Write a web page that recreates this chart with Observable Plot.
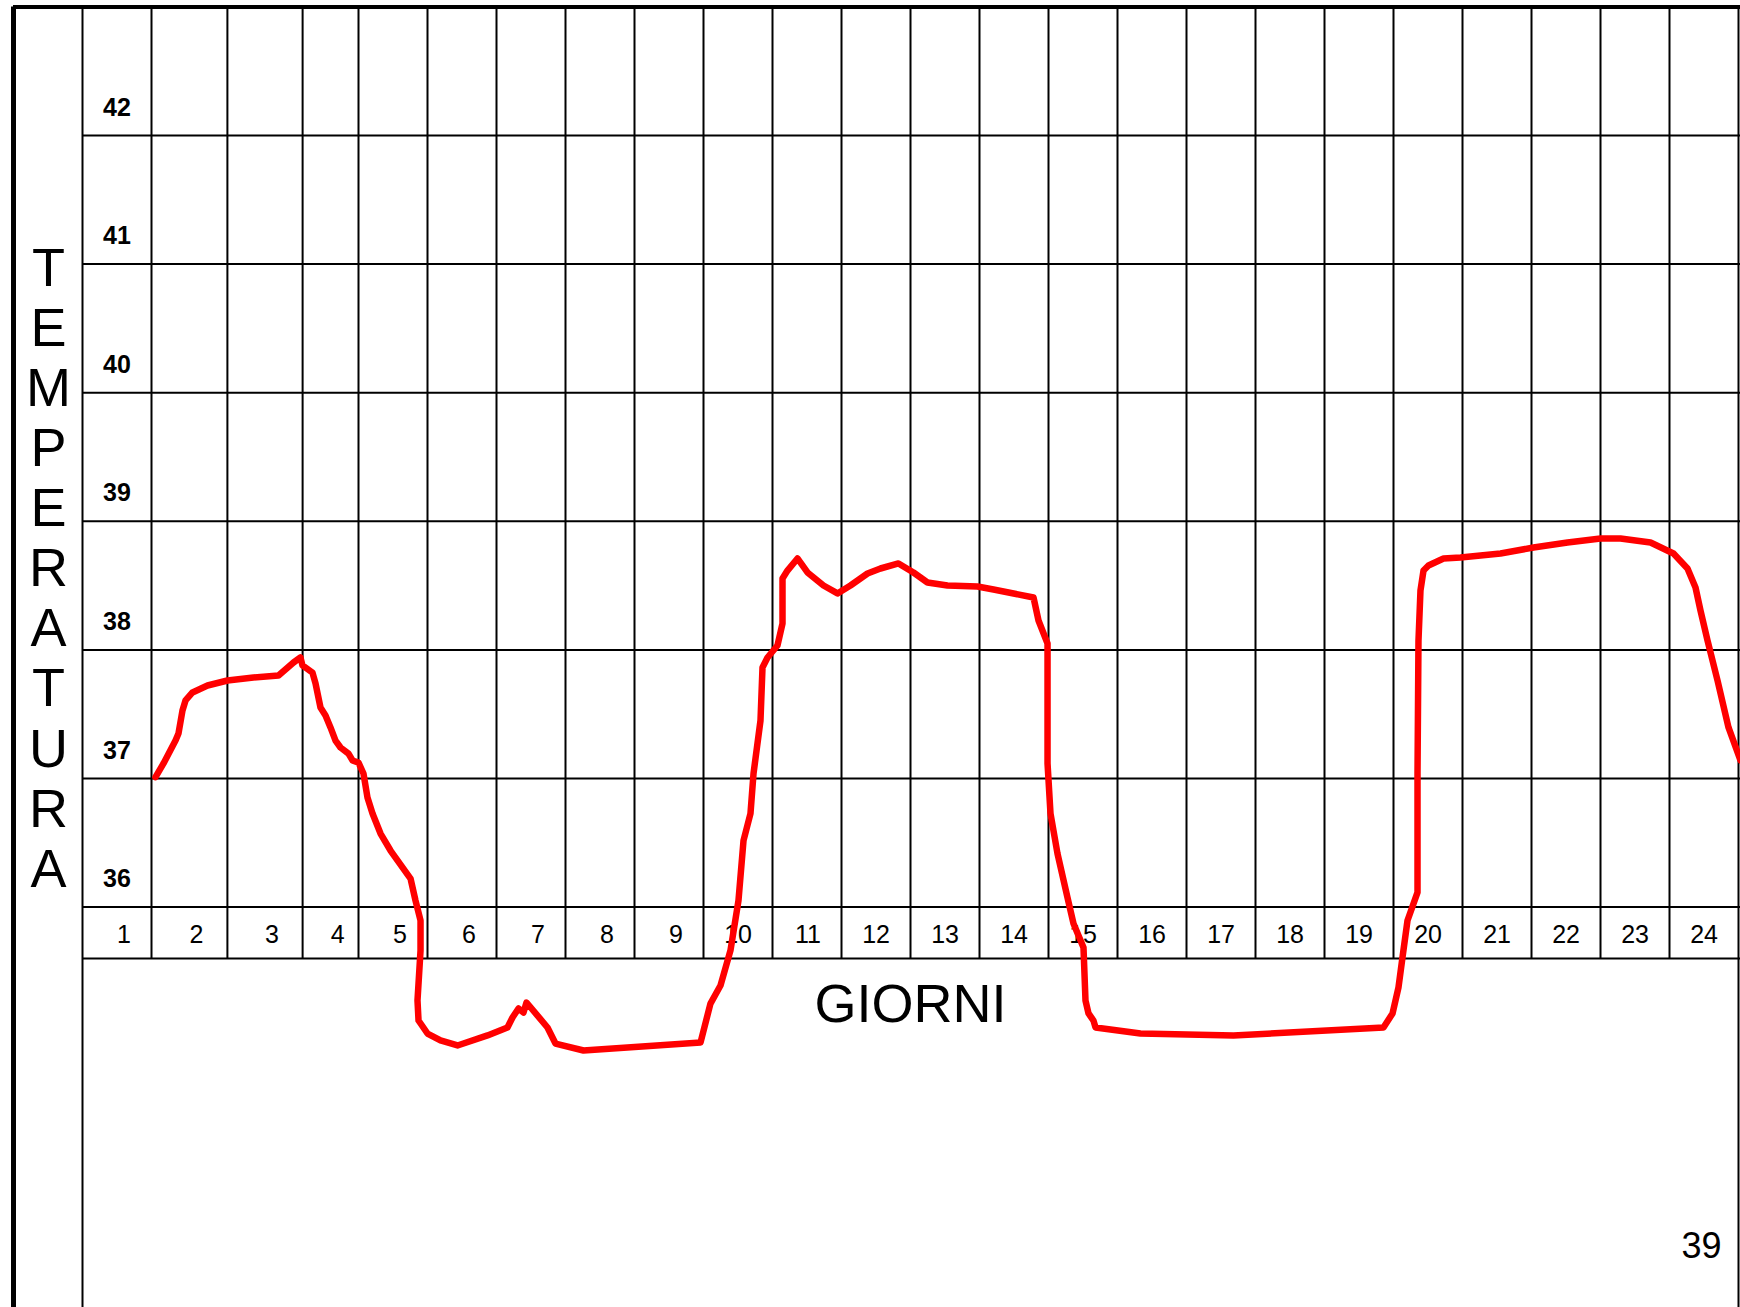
<!DOCTYPE html>
<html>
<head>
<meta charset="utf-8">
<script src="https://cdn.jsdelivr.net/npm/d3@7"></script>
<script src="https://cdn.jsdelivr.net/npm/@observablehq/plot@0.6"></script>
<style>
  html, body { margin: 0; padding: 0; background: white; overflow: hidden; }
  #chart svg { display: block; }
</style>
</head>
<body>
<div id="chart"></div>
<script>
// ---- Data ----
const giorni = ["1","2","3","4","5","6","7","8","9","10","11","12","13","14","15","16","17","18","19","20","21","22","23","24"];
// column boundaries of the printed day grid (in day units)
const limitiColonne = [0, 1, 2.1, 3.19, 4, 5, 6, 7, 8, 9, 10, 11, 12, 13, 14, 15, 16, 17, 18, 19, 20, 21, 22, 23, 24];
const temperatureTick = [36, 37, 38, 39, 40, 41, 42];
const tempMassima = 43;      // top border of the sheet grid
const baseRigaGiorni = 35.6; // bottom of the row with day numbers

// hand-drawn temperature curve: position along the day axis, temperature (°C)
const giornoCurva = [
  1.058, 1.174, 1.348, 1.391, 1.449, 1.493, 1.594, 1.812, 2.101, 2.478,
  2.841, 3.058, 3.159, 3.188, 3.333, 3.377, 3.449, 3.522, 3.594, 3.667,
  3.739, 3.855, 3.913, 4.000, 4.072, 4.130, 4.203, 4.319, 4.464, 4.754,
  4.826, 4.899, 4.899, 4.855, 4.870, 5.000, 5.188, 5.435, 5.870, 6.159,
  6.232, 6.319, 6.391, 6.435, 6.739, 6.855, 7.261, 8.957, 9.101, 9.246,
  9.391, 9.507, 9.580, 9.681, 9.725, 9.826, 9.855, 9.928, 10.072, 10.145,
  10.145, 10.217, 10.362, 10.507, 10.739, 10.942, 11.130, 11.377, 11.565, 11.826,
  12.043, 12.246, 12.536, 12.971, 13.203, 13.783, 13.855, 13.986, 13.986, 14.029,
  14.130, 14.275, 14.362, 14.507, 14.536, 14.580, 14.652, 14.681, 15.333, 16.681,
  18.855, 18.986, 19.072, 19.130, 19.203, 19.348, 19.348, 19.362, 19.391, 19.435,
  19.507, 19.725, 19.971, 20.551, 21.029, 21.522, 22.000, 22.290, 22.725, 23.058,
  23.261, 23.377, 23.449, 23.551, 23.696, 23.855, 24.029
];
const temperaturaCurva = [
  37.01, 37.117, 37.295, 37.35, 37.529, 37.607, 37.669, 37.723, 37.762, 37.785,
  37.801, 37.902, 37.941, 37.879, 37.824, 37.739, 37.552, 37.49, 37.397, 37.295,
  37.241, 37.194, 37.14, 37.124, 37.039, 36.852, 36.728, 36.572, 36.44, 36.222,
  36.051, 35.896, 35.663, 35.274, 35.118, 35.017, 34.963, 34.924, 35.002, 35.064,
  35.142, 35.212, 35.18, 35.258, 35.064, 34.939, 34.885, 34.947, 35.25, 35.39,
  35.663, 36.051, 36.518, 36.728, 37.039, 37.451, 37.863, 37.941, 38.034, 38.205,
  38.555, 38.617, 38.711, 38.602, 38.501, 38.439, 38.501, 38.594, 38.633, 38.672,
  38.602, 38.524, 38.501, 38.493, 38.47, 38.407, 38.229, 38.05, 37.117, 36.728,
  36.417, 36.075, 35.872, 35.686, 35.274, 35.173, 35.118, 35.064, 35.017, 35.002,
  35.064, 35.173, 35.375, 35.608, 35.896, 36.114, 37.039, 38.073, 38.462, 38.617,
  38.656, 38.711, 38.718, 38.75, 38.796, 38.835, 38.866, 38.866, 38.835, 38.75,
  38.633, 38.485, 38.306, 38.073, 37.762, 37.397, 37.14
];

const titoloAsseY = "TEMPERATURA";
const titoloAsseX = "GIORNI";
const numeroPagina = "39";

// ---- Chart ----
const font = "'Liberation Sans', Arial, Helvetica, sans-serif";
const primo = limitiColonne[0];
const ultimo = limitiColonne[limitiColonne.length - 1];
const interni = limitiColonne.slice(1, -1);
const centri = giorni.map((g, i) => (limitiColonne[i] + limitiColonne[i + 1]) / 2);

const xDomain = [-82 / 69, 1658 / 69];
const yDomain = [37 - 529 / 128.6, 37 + 778 / 128.6];

const chart = Plot.plot({
  width: 1740,
  height: 1307,
  margin: 0,
  style: { fontFamily: font, background: "white" },
  x: { domain: xDomain, axis: null },
  y: { domain: yDomain, axis: null },
  marks: [
    // horizontal grid lines
    Plot.ruleY([...temperatureTick, baseRigaGiorni], { y: d => d, x1: primo, x2: xDomain[1], stroke: "black", strokeWidth: 2 }),
    // inner vertical lines (stop at the day row)
    Plot.ruleX(interni, { x: d => d, y1: baseRigaGiorni, y2: tempMassima, stroke: "black", strokeWidth: 2 }),
    // outer vertical lines of the day grid (full height)
    Plot.ruleX([primo, ultimo], { x: d => d, y1: yDomain[0], y2: tempMassima, stroke: "black", strokeWidth: 2 }),
    // sheet border: top and left thick lines
    Plot.ruleY([tempMassima], { y: d => d, x1: -1, x2: xDomain[1], stroke: "black", strokeWidth: 4 }),
    Plot.ruleX([-1], { x: d => d, y1: yDomain[0], y2: tempMassima, stroke: "black", strokeWidth: 5 }),
    // temperature labels
    Plot.text(temperatureTick, {
      x: (primo + limitiColonne[1]) / 2, y: d => d, text: d => String(d),
      dy: -20, lineAnchor: "bottom", fontWeight: "bold", fontSize: 25, fontFamily: font, fill: "black"
    }),
    // day labels
    Plot.text(giorni, {
      x: (d, i) => centri[i], y: 36, text: d => d,
      dy: 36, dx: 14, textAnchor: "end", lineAnchor: "bottom", fontSize: 25, fontFamily: font, fill: "black"
    }),
    // x title
    Plot.text([titoloAsseX], {
      x: 12, y: baseRigaGiorni, text: d => d,
      dy: 63, lineAnchor: "bottom", fontSize: 54, fontFamily: font, fill: "black"
    }),
    // y title, stacked letters
    Plot.text([titoloAsseY.split("").join("\n")], {
      frameAnchor: "top-left", text: d => d, dx: 48, dy: 243,
      textAnchor: "middle", lineAnchor: "top", lineHeight: 1.112, fontSize: 54, fontFamily: font, fill: "black"
    }),
    // page number
    Plot.text([numeroPagina], {
      frameAnchor: "bottom-right", text: d => d, dx: -19, dy: -50,
      textAnchor: "end", lineAnchor: "bottom", fontSize: 36, fontFamily: font, fill: "black"
    }),
    // temperature curve
    Plot.line(temperaturaCurva, {
      x: giornoCurva, y: temperaturaCurva,
      stroke: "#ff0000", strokeWidth: 6.5, strokeLinejoin: "round", strokeLinecap: "round", curve: "linear"
    })
  ]
});
document.getElementById("chart").appendChild(chart);
</script>
</body>
</html>
